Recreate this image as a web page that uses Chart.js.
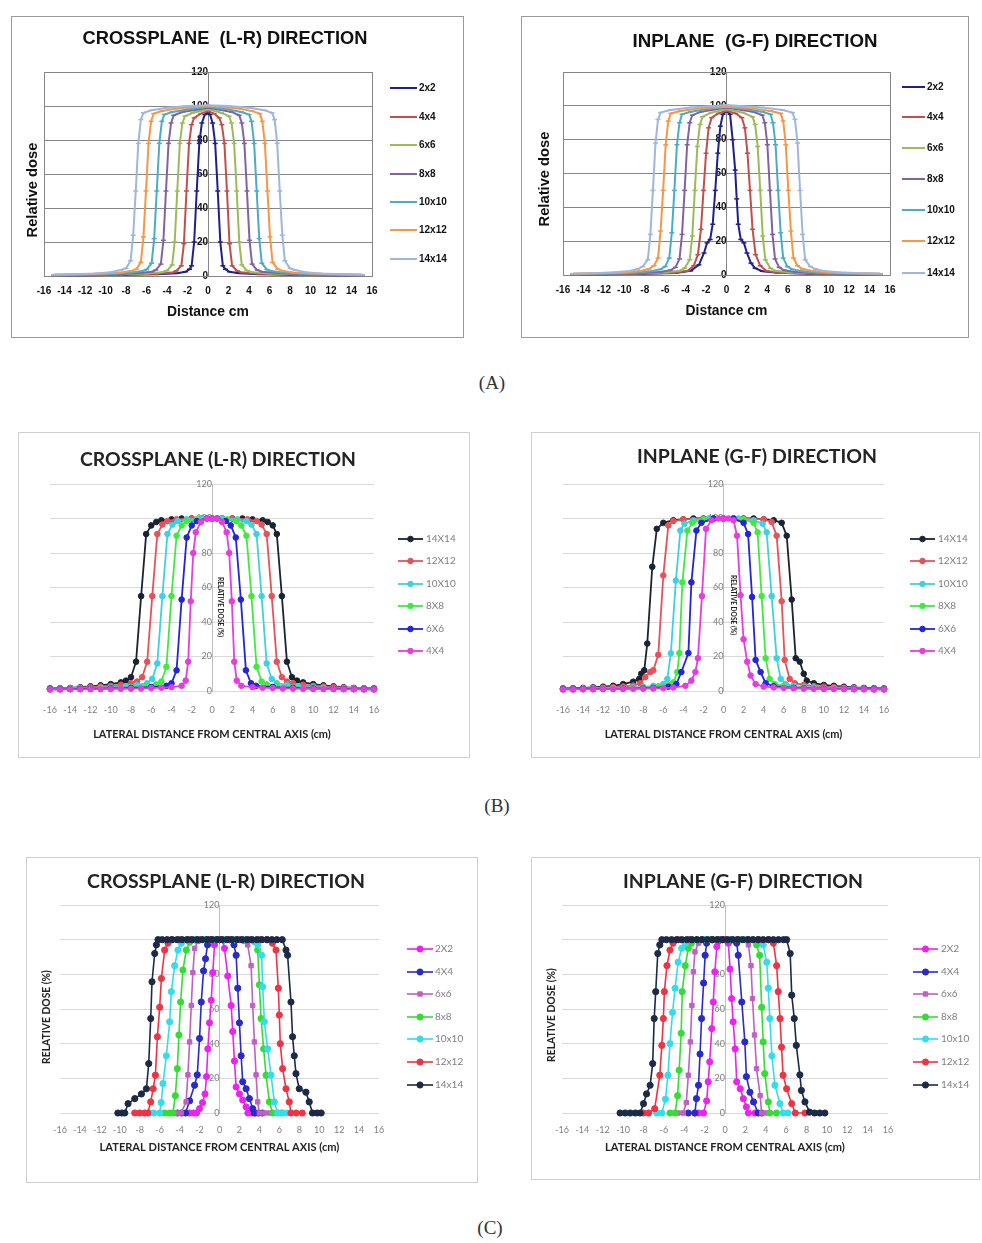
<!DOCTYPE html>
<html><head><meta charset="utf-8">
<script src="https://cdn.jsdelivr.net/npm/chart.js@4.4.1/dist/chart.umd.min.js"></script>
<style>
html,body{margin:0;padding:0;background:#fff;}
body{width:982px;height:1243px;position:relative;overflow:hidden;}
.panel{position:absolute;}
.panel canvas{display:block;}
.cap{position:absolute;font-family:"Liberation Serif","DejaVu Serif",serif;font-size:19px;color:#333;transform:translate(-50%,-50%);white-space:nowrap;}
</style></head><body>
<div class="panel" style="left:11px;top:16px;width:453px;height:322px"><canvas id="cA1" width="453" height="322" style="width:453px;height:322px"></canvas></div>
<div class="panel" style="left:521px;top:16px;width:448px;height:322px"><canvas id="cA2" width="448" height="322" style="width:448px;height:322px"></canvas></div>
<div class="panel" style="left:18px;top:432px;width:452px;height:326px"><canvas id="cB1" width="452" height="326" style="width:452px;height:326px"></canvas></div>
<div class="panel" style="left:531px;top:432px;width:449px;height:326px"><canvas id="cB2" width="449" height="326" style="width:449px;height:326px"></canvas></div>
<div class="panel" style="left:26px;top:857px;width:452px;height:326px"><canvas id="cC1" width="452" height="326" style="width:452px;height:326px"></canvas></div>
<div class="panel" style="left:531px;top:857px;width:449px;height:323px"><canvas id="cC2" width="449" height="323" style="width:449px;height:323px"></canvas></div>
<div class="cap" style="left:492px;top:383px">(A)</div>
<div class="cap" style="left:497px;top:806px">(B)</div>
<div class="cap" style="left:490px;top:1228px">(C)</div>
<script>
// ---------------- DATA ----------------
const X_MIN = -16, X_MAX = 16, X_STEP = 2;
const Y_MIN = 0, Y_MAX = 120, Y_STEP = 20;

const FIELDS_A = ['2x2','4x4','6x6','8x8','10x10','12x12','14x14'];
const FIELDS_B = ['14X14','12X12','10X10','8X8','6X6','4X4'];
const FIELDS_C = ['2X2','4X4','6x6','8x8','10x10','12x12','14x14'];

const TITLES_A = ['CROSSPLANE  (L-R) DIRECTION','INPLANE  (G-F) DIRECTION'];
const TITLES_BC = ['CROSSPLANE (L-R) DIRECTION','INPLANE (G-F) DIRECTION'];
const XTITLE_A = 'Distance cm', YTITLE_A = 'Relative dose';
const XTITLE_BC = 'LATERAL DISTANCE FROM CENTRAL AXIS (cm)', YTITLE_BC = 'RELATIVE DOSE (%)';

// (A) crossplane
const A_CROSS_2x2 = [[-15,0.4],[-12,0.5],[-8,0.7],[-5,1],[-3,1.6],[-2.2,2.5],[-1.8,4],[-1.6,6],[-1.35,20],[-1.1,50],[-0.85,78],[-0.6,90],[-0.3,95],[0,96],[0.2,95],[0.45,90],[0.7,78],[0.95,50],[1.2,20],[1.45,6],[1.7,4],[2.1,2.5],[3,1.6],[5,1],[8,0.7],[12,0.5],[15,0.4]];
const A_CROSS_4x4 = [[-15,0.5],[-12,0.6],[-8,0.9],[-5,1.3],[-3.5,2],[-3.1,3],[-2.6,6],[-2.35,19],[-2.1,50],[-1.85,78],[-1.6,89],[-1.35,93],[-0.7,95.5],[0,97],[0.6,95.5],[1.1,93],[1.35,89],[1.6,78],[1.85,50],[2.1,19],[2.35,6],[2.85,3],[3.35,2],[5,1.3],[8,0.9],[12,0.6],[15,0.5]];
const A_CROSS_6x6 = [[-15,0.5],[-12,0.7],[-9,1],[-6,1.4],[-4.5,2.2],[-4,3.2],[-3.5,6.5],[-3.25,20],[-3,50],[-2.75,78],[-2.5,90],[-2.25,94],[-1.5,96],[0,98],[1.3,96],[2.05,94],[2.3,90],[2.55,78],[2.8,50],[3.05,20],[3.3,6.5],[3.8,3.2],[4.3,2.2],[6,1.4],[9,1],[12,0.7],[15,0.5]];
const A_CROSS_8x8 = [[-15,0.6],[-12,0.8],[-9,1.1],[-7,1.6],[-5.5,2.5],[-5.1,3.5],[-4.6,7],[-4.35,21],[-4.1,50],[-3.85,78],[-3.6,90],[-3.35,94.5],[-2.5,96.5],[-1,98],[0,99],[1,98],[2.3,96.5],[3.05,94.5],[3.3,90],[3.55,78],[3.8,50],[4.05,21],[4.3,7],[4.8,3.5],[5.3,2.5],[7,1.6],[9,1.1],[12,0.8],[15,0.6]];
const A_CROSS_10x10 = [[-15,0.7],[-12,0.9],[-9,1.3],[-7.5,2],[-6.5,2.8],[-6,3.8],[-5.5,7.5],[-5.25,22],[-5,50],[-4.75,78],[-4.5,91],[-4.25,95],[-3.5,96.5],[-2,98],[0,99.5],[2,98],[3.25,96.5],[4,95],[4.25,91],[4.5,78],[4.75,50],[5,22],[5.25,7.5],[5.75,3.8],[6.25,2.8],[7.25,2],[9,1.3],[12,0.9],[15,0.7]];
const A_CROSS_12x12 = [[-15,0.7],[-12,1],[-10,1.4],[-8.5,2],[-7.5,3],[-7,4],[-6.55,8],[-6.3,23],[-6.05,50],[-5.8,78],[-5.55,91],[-5.3,95.5],[-4.5,97],[-3,98.5],[-1,99.5],[0,100],[1,99.5],[3,98.5],[4.3,97],[5.05,95.5],[5.3,91],[5.55,78],[5.8,50],[6.05,23],[6.3,8],[6.8,4],[7.3,3],[8.3,2],[10,1.4],[12,1],[15,0.7]];
const A_CROSS_14x14 = [[-15,0.8],[-13,1],[-11,1.5],[-9.5,2.2],[-8.5,3.5],[-8,4.5],[-7.55,9],[-7.3,24],[-7.05,50],[-6.8,78],[-6.55,92],[-6.3,96],[-5.5,97.5],[-4,99],[-2,100],[0,100.5],[2,100],[4,99],[5.5,97.5],[6.25,96],[6.5,92],[6.75,78],[7,50],[7.25,24],[7.5,9],[8,4.5],[8.5,3.5],[9.5,2.2],[11,1.5],[13,1],[15,0.8]];

// (A) inplane
const A_IN_2x2 = [[-15,0.4],[-12,0.5],[-8,0.8],[-5,1.2],[-3.5,2.5],[-2.7,6],[-2.2,13],[-1.9,19],[-1.6,21],[-1.35,30],[-1.1,50],[-0.85,72],[-0.6,88],[-0.35,95],[0,97],[0.35,95],[0.6,80],[0.85,62],[1,45],[1.15,30],[1.4,21],[1.7,19],[2,13],[2.4,7],[2.8,4],[3.5,2.2],[5,1.4],[8,0.8],[12,0.5],[15,0.4]];
const A_IN_4x4 = [[-15,0.5],[-12,0.6],[-8,0.9],[-5,1.4],[-3.8,2.5],[-3.2,5.5],[-2.8,12],[-2.5,27],[-2.25,50],[-2,72],[-1.75,87],[-1.45,93],[-0.8,95.5],[0,97],[0.9,95.5],[1.5,93],[1.8,87],[2.05,72],[2.3,50],[2.55,27],[2.85,12],[3.3,5.5],[3.9,2.5],[5,1.4],[8,0.9],[12,0.6],[15,0.5]];
const A_IN_6x6 = [[-15,0.5],[-12,0.7],[-9,1],[-6,1.5],[-4.6,2.5],[-4.1,4],[-3.6,9],[-3.35,23],[-3.1,50],[-2.85,76],[-2.6,89],[-2.35,93.5],[-1.5,96],[0,98],[1.6,96],[2.55,93.5],[2.8,89],[3.05,76],[3.3,50],[3.55,23],[3.8,9],[4.3,4],[4.8,2.5],[6.2,1.5],[9,1],[12,0.7],[15,0.5]];
const A_IN_8x8 = [[-15,0.6],[-12,0.8],[-9,1.1],[-6.5,1.8],[-5.5,2.8],[-5,4.5],[-4.6,9.5],[-4.35,24],[-4.1,50],[-3.85,77],[-3.6,90],[-3.35,94.5],[-2.5,96.5],[-1,98],[0,99],[1,98],[2.6,96.5],[3.5,94.5],[3.75,90],[4,77],[4.25,50],[4.5,24],[4.75,9.5],[5.15,4.5],[5.65,2.8],[6.7,1.8],[9,1.1],[12,0.8],[15,0.6]];
const A_IN_10x10 = [[-15,0.7],[-12,0.9],[-9,1.4],[-7.4,2.2],[-6.5,3.3],[-6,5],[-5.6,10],[-5.35,25],[-5.1,50],[-4.85,77],[-4.6,90],[-4.35,95],[-3.5,96.5],[-2,98],[0,99.5],[2,98],[3.5,96.5],[4.3,95],[4.55,90],[4.8,77],[5.05,50],[5.3,25],[5.55,10],[5.95,5],[6.45,3.3],[7.4,2.2],[9,1.4],[12,0.9],[15,0.7]];
const A_IN_12x12 = [[-15,0.7],[-12,1],[-10,1.5],[-8.5,2.3],[-7.6,3.5],[-7.1,5.5],[-6.7,10],[-6.45,26],[-6.2,50],[-5.95,77],[-5.7,91],[-5.45,95.5],[-4.5,97],[-2.5,98.5],[0,99.5],[2.5,98.5],[4.3,97],[5.3,95.5],[5.55,91],[5.8,77],[6.05,50],[6.3,26],[6.55,10],[6.95,5.5],[7.45,3.5],[8.5,2.3],[10,1.5],[12,1],[15,0.7]];
const A_IN_14x14 = [[-15,0.8],[-13,1],[-11,1.6],[-9.5,2.4],[-8.7,3.5],[-8.2,5],[-7.7,9],[-7.45,24],[-7.2,50],[-6.95,78],[-6.7,92],[-6.45,96],[-5.5,97.5],[-3.5,99],[-1,100],[0,100.5],[1,100],[3.5,99],[5.5,97.5],[6.45,96],[6.7,92],[6.95,78],[7.2,50],[7.45,24],[7.7,9],[8.2,5],[8.7,3.5],[9.5,2.4],[11,1.6],[13,1],[15,0.8]];

// (B) crossplane
const B_CROSS_14X14 = [[-16,1.5],[-15,1.6],[-14,1.8],[-13,2.2],[-12,2.7],[-11,3.3],[-10,4],[-9,5],[-8.5,6],[-8,8],[-7.5,17],[-7,55],[-6.5,91],[-6,96],[-5.5,98],[-5,99],[-4,99.5],[-3,100],[-2,100],[-1,100],[0,100],[1,100],[2,100],[3,100],[4,99.5],[5,99],[5.5,98],[6,96],[6.4,91],[6.9,55],[7.4,17],[7.9,8],[8.4,6],[9,5],[10,4],[11,3.3],[12,2.7],[13,2.2],[14,1.8],[15,1.6],[16,1.5]];
const B_CROSS_12X12 = [[-16,1.3],[-15,1.4],[-14,1.6],[-13,1.9],[-12,2.2],[-11,2.6],[-10,3],[-9,3.6],[-8,4.5],[-7.4,5.5],[-6.9,8],[-6.4,17],[-5.9,55],[-5.4,91],[-4.9,96.5],[-4.4,98.5],[-3.5,99.5],[-2,100],[-1,100],[0,100],[1,100],[2,100],[3.5,99.5],[4.4,98.5],[4.9,96.5],[5.4,91],[5.9,55],[6.4,17],[6.9,8],[7.4,5.5],[8,4.5],[9,3.6],[10,3],[11,2.6],[12,2.2],[13,1.9],[14,1.6],[15,1.4],[16,1.3]];
const B_CROSS_10X10 = [[-16,1.2],[-15,1.3],[-14,1.4],[-13,1.5],[-12,1.7],[-11,1.9],[-10,2.2],[-8.5,2.8],[-7.4,3.5],[-6.4,4.5],[-5.9,7],[-5.4,16],[-4.9,55],[-4.4,91],[-3.9,96.5],[-3.4,98.5],[-2.5,99.5],[-1,100],[0,100],[1,100],[2.5,99.5],[3.4,98.5],[3.9,96.5],[4.4,91],[4.9,55],[5.4,16],[5.9,7],[6.4,4.5],[7.4,3.5],[8.5,2.8],[10,2.2],[11,1.9],[12,1.7],[13,1.5],[14,1.4],[15,1.3],[16,1.2]];
const B_CROSS_8X8 = [[-16,1.1],[-15,1.2],[-14,1.3],[-13,1.4],[-12,1.5],[-11,1.6],[-10,1.8],[-8,2.3],[-6.5,3],[-5.5,3.8],[-5,5.5],[-4.5,14],[-4,55],[-3.5,90],[-3,96],[-2.5,98.5],[-1.5,99.5],[0,100],[1.5,99.5],[2.4,98.5],[2.9,96],[3.4,90],[3.9,55],[4.4,14],[4.9,5.5],[5.4,3.8],[6.4,3],[8,2.3],[10,1.8],[11,1.6],[12,1.5],[13,1.4],[14,1.3],[15,1.2],[16,1.1]];
const B_CROSS_6X6 = [[-16,1],[-15,1],[-14,1.1],[-13,1.2],[-12,1.3],[-10,1.5],[-8,1.8],[-6,2.3],[-4.5,3],[-4,4.5],[-3.5,12],[-3,53],[-2.5,89],[-2,96],[-1.5,98.5],[-0.5,100],[0,100],[0.5,100],[1.35,98.5],[1.85,96],[2.35,89],[2.85,53],[3.35,12],[3.85,4.5],[4.35,3],[6,2.3],[8,1.8],[10,1.5],[12,1.3],[13,1.2],[14,1.1],[15,1],[16,1]];
const B_CROSS_4X4 = [[-16,0.9],[-15,0.9],[-14,1],[-13,1],[-12,1.1],[-11,1.1],[-10,1.2],[-9,1.3],[-8,1.4],[-7,1.5],[-6,1.7],[-5,1.9],[-4,2.2],[-3,3],[-2.6,6],[-2.35,17],[-2.1,52],[-1.85,80],[-1.6,92],[-1.1,98],[-0.5,100],[0,100],[0.5,100],[1,98],[1.45,92],[1.7,80],[1.96,52],[2.2,17],[2.45,6],[2.9,3],[4,2.2],[5,1.9],[6,1.7],[7,1.5],[8,1.4],[9,1.3],[10,1.2],[11,1.1],[12,1.1],[13,1],[14,1],[15,0.9],[16,0.9]];

// (B) inplane
const B_IN_14X14 = [[-16,1.5],[-15,1.6],[-14,1.8],[-13,2.1],[-12,2.5],[-11,3],[-10,4],[-9,5.4],[-8.4,7],[-8.2,10],[-7.9,12],[-7.6,27.5],[-7.1,72],[-6.65,94],[-6,97.5],[-5,99],[-4,99.5],[-3,100],[-2,100],[-1,100],[0,100],[1,100],[2,100],[3,100],[4,99.5],[5,99],[5.8,97.5],[6.3,90],[6.8,53],[7.2,19],[7.6,17],[8,10],[8.3,6],[9,4.5],[10,3.5],[11,3],[12,2.5],[13,2.1],[14,1.8],[15,1.6],[16,1.5]];
const B_IN_12X12 = [[-16,1.3],[-15,1.4],[-14,1.5],[-13,1.7],[-12,1.9],[-11,2.2],[-10,2.6],[-9,3.2],[-8.3,4.5],[-7.8,8],[-7.3,11],[-7,12],[-6.5,21],[-6,67],[-5.5,96],[-5,98.5],[-4,99.5],[-2,100],[-1,100],[0,100],[1,100],[2,100],[4,99.5],[4.8,98],[5.3,90],[5.8,52],[6.1,18],[6.6,7],[7.1,4.5],[8,3.5],[9,2.9],[10,2.5],[11,2.2],[12,1.9],[13,1.7],[14,1.5],[15,1.4],[16,1.3]];
const B_IN_10X10 = [[-16,1.2],[-15,1.2],[-14,1.3],[-13,1.4],[-12,1.5],[-11,1.6],[-10,1.8],[-9,2.1],[-8,2.4],[-7,3],[-6,4],[-5.6,7],[-5.25,21.8],[-4.75,64],[-4.3,93],[-3.9,97],[-3,99],[-1.5,100],[0,100],[1.5,100],[3,99],[3.9,97],[4.3,92],[4.8,55],[5.3,19],[5.7,7],[6.2,4],[7,3],[8,2.4],[9,2.1],[10,1.8],[11,1.6],[12,1.5],[13,1.4],[14,1.3],[15,1.2],[16,1.2]];
const B_IN_8X8 = [[-16,1.1],[-15,1.1],[-14,1.2],[-13,1.3],[-12,1.4],[-11,1.5],[-10,1.6],[-9,1.8],[-8,2],[-6.5,2.7],[-5.5,3.5],[-5,5],[-4.6,11],[-4.4,22],[-4.1,63],[-3.6,93],[-3.1,97.5],[-2,99.5],[0,100],[2,99.5],[3,97.5],[3.4,92],[3.8,55],[4.2,19],[4.6,7],[5.1,4],[6,3],[8,2],[9,1.8],[10,1.6],[11,1.5],[12,1.4],[13,1.3],[14,1.2],[15,1.1],[16,1.1]];
const B_IN_6X6 = [[-16,1],[-15,1],[-14,1.1],[-13,1.1],[-12,1.2],[-10,1.4],[-8,1.6],[-7,1.8],[-5.5,2.5],[-4.7,4],[-4.2,11],[-3.5,22],[-3.2,63],[-2.7,93],[-2.2,97.5],[-1,100],[0,100],[1,100],[2,97.5],[2.45,91],[2.85,54.5],[3.2,18],[3.7,11],[4.2,4.5],[5,2.8],[7,1.8],[8,1.6],[10,1.4],[12,1.2],[13,1.1],[14,1.1],[15,1],[16,1]];
const B_IN_4X4 = [[-16,0.9],[-15,0.9],[-14,1],[-13,1],[-12,1.1],[-11,1.1],[-10,1.2],[-9,1.3],[-8,1.4],[-7,1.5],[-6,1.7],[-5,2],[-3.8,3],[-3.2,6],[-2.8,11],[-2.55,19],[-2.15,55],[-1.74,94],[-1.2,99],[-0.5,100],[0,100],[0.5,100],[1,99],[1.35,90],[1.7,55.5],[2,30],[2.36,17],[2.7,9],[3.2,4],[4,2.5],[5,2.1],[6,1.8],[7,1.6],[8,1.4],[9,1.3],[10,1.2],[11,1.1],[12,1.1],[13,1],[14,1],[15,0.9],[16,0.9]];

// (C) crossplane
const C_CROSS_2X2 = [[-3,0],[-2.6,0],[-2.3,0],[-2,2.5],[-1.7,6],[-1.45,11],[-1.3,21],[-1.17,37],[-1,52],[-0.83,65],[-0.67,81],[-0.5,97],[-0.3,100],[0,100],[0.3,100],[0.5,95],[0.83,79],[1.17,62],[1.33,47],[1.5,30],[1.67,15],[2,11],[2.33,7.5],[2.67,3.5],[2.85,0],[3.2,0],[3.6,0]];
const C_CROSS_4X4 = [[-4.2,0],[-3.8,0],[-3.4,0],[-3,7],[-2.5,16],[-2.23,22],[-2,43],[-1.83,64],[-1.6,82],[-1.4,89],[-1.2,97],[-1,100],[-0.5,100],[0,100],[0.5,100],[1,100],[1.45,97],[1.67,91],[1.83,72],[2,52],[2.17,33],[2.33,18],[2.67,14],[3,8.3],[3.33,2.5],[3.5,0],[3.9,0],[4.3,0]];
const C_CROSS_6x6 = [[-4.5,0],[-4.2,0],[-3.85,0],[-3.35,6.4],[-3.17,22],[-3,41],[-2.83,62],[-2.67,81],[-2.5,95],[-2.17,99],[-1.5,100],[-0.5,100],[0.5,100],[1.5,100],[2.5,99],[2.83,97],[3.17,85],[3.33,62],[3.5,41],[3.67,22],[3.83,6.4],[4,0],[4.5,0],[5,0]];
const C_CROSS_8x8 = [[-5.5,0],[-5,0],[-4.67,0],[-4.43,10],[-4.23,25.6],[-4.07,45],[-3.9,64],[-3.67,82.5],[-3.33,94],[-3,98.5],[-2.5,100],[-1.5,100],[-0.5,100],[0.5,100],[1.5,100],[2.5,100],[3.5,99],[3.83,94],[4,74],[4.17,54.5],[4.43,37],[4.67,21.8],[5,6.4],[5.33,0],[5.83,0],[6.2,0]];
const C_CROSS_10x10 = [[-7,0],[-6.6,0],[-6,0],[-5.85,6],[-5.67,17],[-5.33,33],[-5,52.6],[-4.83,70],[-4.5,85],[-4.17,94],[-3.83,98],[-3.3,100],[-2.5,100],[-1.5,100],[-0.5,100],[0.5,100],[1.5,100],[2.5,100],[3.3,100],[3.83,97],[4.23,91],[4.33,72.8],[4.5,52.6],[4.83,37],[5.17,21.8],[5.5,6.4],[5.83,0],[6.33,0],[6.8,0]];
const C_CROSS_12x12 = [[-8.5,0],[-8,0],[-7.5,0],[-7.2,0],[-6.9,6.4],[-6.65,14],[-6.43,21.8],[-6.23,44],[-6,61],[-5.83,77.6],[-5.5,94],[-5.17,98],[-4.8,100],[-4,100],[-3,100],[-2,100],[-1,100],[0,100],[1,100],[2,100],[3,100],[4,100],[4.8,100],[5.3,98],[5.67,94],[5.9,72],[6,56.5],[6.1,40],[6.33,25.6],[6.67,14],[7,6.4],[7.17,0],[7.7,0],[8.3,0]];
const C_CROSS_14x14 = [[-10.2,0],[-9.8,0],[-9.5,0],[-9.17,5.4],[-8.5,8.3],[-7.83,11],[-7.33,14],[-7.1,28.5],[-6.9,54.5],[-6.77,75.7],[-6.5,92],[-6.33,97],[-6.17,100],[-5.75,100],[-5.25,100],[-4.75,100],[-4.25,100],[-3.75,100],[-3.25,100],[-2.75,100],[-2.25,100],[-1.75,100],[-1.25,100],[-0.75,100],[-0.25,100],[0.25,100],[0.75,100],[1.25,100],[1.75,100],[2.25,100],[2.75,100],[3.25,100],[3.75,100],[4.25,100],[4.75,100],[5.25,100],[5.75,100],[6.3,100],[6.67,94],[6.83,91],[7.17,64],[7.33,44],[7.5,33],[7.67,22.7],[8,14],[8.67,12],[9,6.4],[9.33,0],[9.8,0],[10.2,0]];

// (C) inplane
const C_IN_2X2 = [[-2.95,0],[-2.6,0],[-2.1,0],[-1.8,7],[-1.65,18],[-1.5,29.5],[-1.3,48.7],[-1.15,64],[-1,81.5],[-0.8,96],[-0.65,99],[-0.3,100],[0,100],[0.33,98],[0.5,83],[0.65,66],[0.8,52.6],[1,37],[1.15,18],[1.5,14],[1.8,8.3],[2.1,3.5],[2.3,0],[2.95,0]];
const C_IN_4X4 = [[-3.6,0],[-2.95,0],[-2.8,8.3],[-2.6,16],[-2.45,34],[-2.3,54.5],[-2.1,75],[-1.95,91],[-1.8,98],[-1.3,100],[-0.6,100],[0,100],[0.6,100],[1.15,98],[1.3,91],[1.65,64],[1.95,41],[2.1,21],[2.45,12],[2.8,6.4],[3.25,0],[3.6,0]];
const C_IN_6x6 = [[-4.6,0],[-4.1,0],[-3.8,6],[-3.6,21.8],[-3.4,41],[-3.25,62],[-3.1,81.5],[-2.95,93],[-2.6,98],[-2,100],[-1,100],[0,100],[1,100],[1.8,100],[2.3,97],[2.55,85],[2.7,66],[2.9,45],[3.1,25.6],[3.45,10],[3.6,0],[4.1,0]];
const C_IN_8x8 = [[-5.4,0],[-4.9,0],[-4.65,10],[-4.5,24.7],[-4.3,46],[-4.2,70],[-3.9,85],[-3.6,95],[-3.3,98],[-2.8,100],[-1.5,100],[0,100],[1.5,100],[2.7,100],[3.1,97],[3.4,91],[3.6,61],[3.75,41],[3.9,22.7],[4.25,6.4],[4.4,0],[5.05,0]];
const C_IN_10x10 = [[-6.7,0],[-6.2,0],[-5.85,8],[-5.6,21.8],[-5.4,40],[-5.15,58],[-4.9,72],[-4.6,87],[-4.25,95],[-3.9,98],[-3.4,100],[-2,100],[-0.7,100],[0.7,100],[2,100],[3.3,100],[3.75,97],[4.1,87],[4.25,72],[4.4,54.5],[4.6,33],[4.9,16],[5.4,5.4],[5.7,0],[6.2,0]];
const C_IN_12x12 = [[-8,0],[-7.5,0],[-6.9,2.5],[-6.4,21.8],[-6.2,39],[-6.05,54.5],[-5.95,70],[-5.7,85],[-5.4,94],[-5.1,98],[-4.6,100],[-3.5,100],[-2.3,100],[-1.2,100],[0,100],[1.2,100],[2.3,100],[3.3,100],[4.3,100],[4.75,98],[5.07,85],[5.23,70],[5.4,54.5],[5.55,38],[5.7,21.8],[6.05,14],[6.55,5.4],[6.9,0],[7.85,0]];
const C_IN_14x14 = [[-10.3,0],[-9.8,0],[-9.3,0],[-8.8,0],[-8.33,0],[-8,5.4],[-7.7,11],[-7.35,16],[-7.1,28.5],[-6.95,54.5],[-6.8,70],[-6.6,92],[-6.4,97],[-6.2,100],[-5.75,100],[-5.25,100],[-4.75,100],[-4.25,100],[-3.75,100],[-3.25,100],[-2.75,100],[-2.25,100],[-1.75,100],[-1.25,100],[-0.75,100],[-0.25,100],[0.25,100],[0.75,100],[1.25,100],[1.75,100],[2.25,100],[2.75,100],[3.25,100],[3.75,100],[4.25,100],[4.75,100],[5.25,100],[5.75,100],[6.05,100],[6.4,92],[6.55,68],[6.8,54.5],[7,39],[7.35,22],[7.5,13],[7.85,6.4],[8.3,0.5],[8.8,0],[9.3,0],[9.8,0]];

// ---------------- STYLE ----------------
const COLORS_A = ['#1f1f8f','#c0504d','#9bbb59','#8064a2','#4bacc6','#f79646','#9fb6de'];
const COLORS_B = ['#1b2233','#e8505a','#3fd0e6','#40ea40','#2424d8','#e63ce0'];
const COLORS_C = ['#ee22ee','#2a2acc','#c060c0','#33dd33','#33ddee','#ee3344','#1c2a48'];

const SANS_A = '"Liberation Sans", Arial, sans-serif';
const SANS_BC = 'Lato, "Open Sans", "Liberation Sans", sans-serif';

const mctx = document.createElement('canvas').getContext('2d');
function fitSize(text, weight, family, base, targetW) {
  mctx.font = weight + ' ' + base + 'px ' + family;
  const w = mctx.measureText(text).width;
  return w > 0 ? base * targetW / w : base;
}

function decorPlugin(d) {
  return {
    id: 'decor',
    beforeDraw(chart) {
      const ctx = chart.ctx;
      ctx.save();
      ctx.fillStyle = '#ffffff';
      ctx.fillRect(0, 0, chart.width, chart.height);
      ctx.strokeStyle = d.frame; ctx.lineWidth = 1;
      ctx.strokeRect(0.5, 0.5, chart.width - 1, chart.height - 1);
      ctx.restore();
    },
    beforeDatasetsDraw(chart) {
      if (!d.plotBorder) return;
      const a = chart.chartArea, ctx = chart.ctx;
      ctx.save(); ctx.strokeStyle = d.plotBorder; ctx.lineWidth = 1;
      ctx.strokeRect(Math.round(a.left) + 0.5, Math.round(a.top) + 0.5, Math.round(a.right - a.left), Math.round(a.bottom - a.top));
      ctx.restore();
    },
    afterDraw(chart) {
      const ctx = chart.ctx;
      ctx.save();
      const t = d.title;
      const ts = fitSize(t.text, 'bold', t.family, 16, t.w);
      ctx.font = 'bold ' + ts + 'px ' + t.family;
      ctx.fillStyle = t.color; ctx.textAlign = 'center'; ctx.textBaseline = 'middle';
      ctx.fillText(t.text, t.x, t.y);
      const yt = d.yTitle;
      const ys = fitSize(yt.text, 'bold', yt.family, 10, yt.w);
      ctx.save();
      ctx.translate(yt.x, yt.y); ctx.rotate(yt.rot);
      ctx.font = 'bold ' + ys + 'px ' + yt.family;
      ctx.fillStyle = yt.color; ctx.textAlign = 'center'; ctx.textBaseline = 'middle';
      ctx.fillText(yt.text, 0, 0);
      ctx.restore();
      const L = d.legend;
      chart.data.datasets.forEach((ds, i) => {
        const y = L.ys[i];
        ctx.strokeStyle = ds.borderColor; ctx.lineWidth = ds.borderWidth;
        ctx.beginPath(); ctx.moveTo(L.x1, y); ctx.lineTo(L.x2, y); ctx.stroke();
        ctx.fillStyle = ds.pointBackgroundColor; ctx.strokeStyle = ds.pointBorderColor; ctx.lineWidth = ds.pointBorderWidth;
        const opts = {pointStyle: ds.pointStyle, radius: ds.pointRadius, borderWidth: ds.pointBorderWidth, rotation: 0};
        if (Chart.helpers && Chart.helpers.drawPoint) {
          Chart.helpers.drawPoint(ctx, opts, (L.x1 + L.x2) / 2, y);
        } else {
          ctx.beginPath(); ctx.arc((L.x1 + L.x2) / 2, y, ds.pointRadius, 0, Math.PI * 2); ctx.fill();
        }
        ctx.font = L.weight + ' ' + L.size + 'px ' + L.family;
        ctx.fillStyle = L.color; ctx.textAlign = 'left'; ctx.textBaseline = 'middle';
        ctx.fillText(ds.label, L.tx, y);
      });
      ctx.restore();
    }
  };
}

function buildChart(id, names, series, colors, st, g) {
  const n = names.length;
  const datasets = names.map((name, i) => ({
    label: name,
    data: series[i].map(([x, y]) => ({x, y})),
    borderColor: colors[i], backgroundColor: colors[i],
    pointBackgroundColor: colors[i], pointBorderColor: colors[i],
    borderWidth: st.lineW, pointRadius: st.ptR,
    pointStyle: (st.ptStyles && st.ptStyles[i]) || st.ptStyle,
    pointBorderWidth: st.ptBW, showLine: true, tension: 0,
    order: n - i, clip: 6
  }));
  const xtSize = fitSize(g.xTitle, 'bold', st.family, 10, g.xTitleW);
  return new Chart(document.getElementById(id), {
    type: 'scatter',
    data: {datasets},
    options: {
      responsive: false, animation: false, events: [],
      layout: {padding: g.pad, autoPadding: true},
      plugins: {legend: {display: false}, title: {display: false}, tooltip: {enabled: false}},
      scales: {
        x: {
          type: 'linear', position: 'bottom', min: X_MIN, max: X_MAX,
          ticks: {stepSize: X_STEP, autoSkip: false, maxRotation: 0, padding: st.xTickPad,
                  font: {family: st.family, size: st.tickSize, weight: st.tickWeight}, color: st.tickColor},
          grid: {display: false, drawTicks: false},
          border: {display: st.xBorder, color: st.gridColor},
          title: {display: true, text: g.xTitle, color: st.titleColor,
                  font: {family: st.family, size: xtSize, weight: 'bold'},
                  padding: {top: 0, bottom: st.xTitlePadB}},
          afterFit: (s) => { s.height = st.xAxisH; }
        },
        y: {
          type: 'linear', position: {x: 0}, min: Y_MIN, max: Y_MAX,
          ticks: {stepSize: Y_STEP, padding: 3,
                  font: {family: st.family, size: st.tickSize, weight: st.tickWeight}, color: st.tickColor},
          grid: {color: st.gridColor, drawTicks: false, lineWidth: 1},
          border: {display: true, color: st.axisColor}
        }
      }
    },
    plugins: [decorPlugin({
      frame: st.frame, plotBorder: st.plotBorder,
      title: {text: g.title, x: g.tx, y: g.ty, w: g.tw, family: st.family, color: st.titleColor},
      yTitle: {text: g.yTitle, x: g.yx, y: g.yy, w: g.yw, rot: g.yrot, family: st.family, color: st.titleColor},
      legend: {x1: g.lx1, x2: g.lx2, tx: g.ltx, ys: g.lys, size: st.legSize, weight: st.legWeight, family: st.family, color: st.legColor}
    })]
  });
}

const STYLE_A = {family: SANS_A, lineW: 2, ptR: 2.5, ptStyle: 'line', ptBW: 1.5,
  tickSize: 10, tickWeight: 'bold', tickColor: '#111', xTickPad: 9, xTitlePadB: 0, xAxisH: 45,
  gridColor: '#868686', axisColor: '#868686', xBorder: true, plotBorder: '#868686', frame: '#9a9a9a',
  titleColor: '#111', legSize: 10, legWeight: 'bold', legColor: '#111'};
const STYLE_B = {family: SANS_BC, lineW: 1.8, ptR: 2.8, ptStyle: 'circle', ptBW: 1,
  tickSize: 9, tickWeight: 'normal', tickColor: '#7f7f7f', xTickPad: 13.6, xTitlePadB: 1.6, xAxisH: 52,
  gridColor: '#d9d9d9', axisColor: '#bfbfbf', xBorder: false, plotBorder: null, frame: '#cfcfcf',
  titleColor: '#232323', legSize: 10, legWeight: 'normal', legColor: '#7f7f7f'};
const STYLE_C = Object.assign({}, STYLE_B, {lineW: 1.6, ptR: 3.1, xTickPad: 11.6, xTitlePadB: 2.6, xAxisH: 44,
  ptStyles: ['circle','circle','rect','circle','circle','circle','circle']});

buildChart('cA1', FIELDS_A,
  [A_CROSS_2x2, A_CROSS_4x4, A_CROSS_6x6, A_CROSS_8x8, A_CROSS_10x10, A_CROSS_12x12, A_CROSS_14x14],
  COLORS_A, STYLE_A,
  {pad: {left: 33, right: 92, top: 56, bottom: 17}, title: TITLES_A[0], tx: 214, ty: 23, tw: 285,
   xTitle: XTITLE_A, xTitleW: 82, yTitle: YTITLE_A, yx: 22, yy: 174, yw: 95, yrot: -Math.PI / 2,
   lx1: 379, lx2: 406, ltx: 408, lys: [72, 101, 129, 158, 186, 214, 243]});
buildChart('cA2', FIELDS_A,
  [A_IN_2x2, A_IN_4x4, A_IN_6x6, A_IN_8x8, A_IN_10x10, A_IN_12x12, A_IN_14x14],
  COLORS_A, STYLE_A,
  {pad: {left: 42, right: 79, top: 56, bottom: 18}, title: TITLES_A[1], tx: 234, ty: 26, tw: 245,
   xTitle: XTITLE_A, xTitleW: 82, yTitle: YTITLE_A, yx: 24, yy: 163, yw: 95, yrot: -Math.PI / 2,
   lx1: 381, lx2: 404, ltx: 406, lys: [71, 101, 132, 163, 194, 225, 257]});
buildChart('cB1', FIELDS_B,
  [B_CROSS_14X14, B_CROSS_12X12, B_CROSS_10X10, B_CROSS_8X8, B_CROSS_6X6, B_CROSS_4X4],
  COLORS_B, STYLE_B,
  {pad: {left: 32, right: 96, top: 52, bottom: 15}, title: TITLES_BC[0], tx: 200, ty: 28, tw: 276,
   xTitle: XTITLE_BC, xTitleW: 238, yTitle: YTITLE_BC, yx: 202, yy: 175, yw: 60, yrot: Math.PI / 2,
   lx1: 380, lx2: 405, ltx: 408, lys: [107, 129, 152, 174, 197, 219]});
buildChart('cB2', FIELDS_B,
  [B_IN_14X14, B_IN_12X12, B_IN_10X10, B_IN_8X8, B_IN_6X6, B_IN_4X4],
  COLORS_B, STYLE_B,
  {pad: {left: 32, right: 96, top: 52, bottom: 15}, title: TITLES_BC[1], tx: 226, ty: 25, tw: 240,
   xTitle: XTITLE_BC, xTitleW: 238, yTitle: YTITLE_BC, yx: 202, yy: 173, yw: 60, yrot: Math.PI / 2,
   lx1: 379, lx2: 404, ltx: 407, lys: [107, 129, 152, 174, 197, 219]});
buildChart('cC1', FIELDS_C,
  [C_CROSS_2X2, C_CROSS_4X4, C_CROSS_6x6, C_CROSS_8x8, C_CROSS_10x10, C_CROSS_12x12, C_CROSS_14x14],
  COLORS_C, STYLE_C,
  {pad: {left: 34, right: 99, top: 48, bottom: 26}, title: TITLES_BC[0], tx: 200, ty: 25, tw: 278,
   xTitle: XTITLE_BC, xTitleW: 240, yTitle: YTITLE_BC, yx: 21, yy: 160, yw: 94, yrot: -Math.PI / 2,
   lx1: 381, lx2: 407, ltx: 409, lys: [92, 115, 137, 160, 182, 205, 228]});
buildChart('cC2', FIELDS_C,
  [C_IN_2X2, C_IN_4X4, C_IN_6x6, C_IN_8x8, C_IN_10x10, C_IN_12x12, C_IN_14x14],
  COLORS_C, STYLE_C,
  {pad: {left: 31, right: 92, top: 48, bottom: 23}, title: TITLES_BC[1], tx: 212, ty: 25, tw: 240,
   xTitle: XTITLE_BC, xTitleW: 240, yTitle: YTITLE_BC, yx: 21, yy: 158, yw: 94, yrot: -Math.PI / 2,
   lx1: 382, lx2: 407, ltx: 410, lys: [92, 115, 137, 160, 182, 205, 228]});
</script>
</body></html>
